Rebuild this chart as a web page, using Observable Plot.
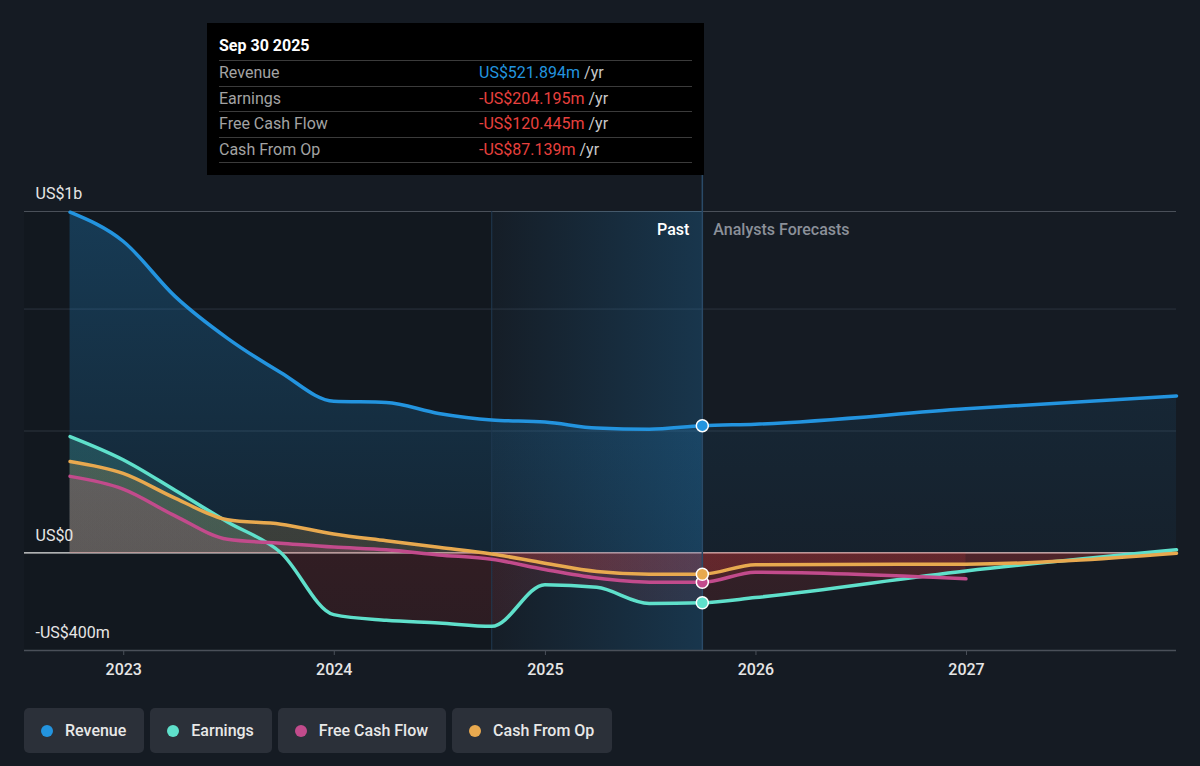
<!DOCTYPE html>
<html>
<head>
<meta charset="utf-8">
<script src="https://cdn.jsdelivr.net/npm/d3@7"></script>
<script src="https://cdn.jsdelivr.net/npm/@observablehq/plot@0.6"></script>
<style>
  body { margin: 0; background: #151b23; font-family: Roboto, "Noto Sans", sans-serif; }
  #wrap { position: relative; width: 1200px; height: 766px; overflow: hidden; }
  #chart svg { display: block; }
  .tip { position: absolute; left: 207px; top: 23px; width: 497px; height: 152px; background: #000;
         box-sizing: border-box; padding: 0 12px; color: #fff; font-size: 16px; }
  .tip .ttl { height: 37px; padding-top: 12px; box-sizing: border-box; line-height: 22px; font-weight: 700; }
  .tip .row { display: flex; height: 25.5px; line-height: 24px; border-top: 1px solid #3b3b3b; box-sizing: border-box; }
  .tip .row:last-child { border-bottom: 1px solid #3b3b3b; height: 26.5px; }
  .tip .lab { width: 260px; color: #a3a3a3; }
  .tip .unit { color: #c8c8c8; }
  .legend { position: absolute; left: 24px; top: 708px; display: flex; gap: 6px; }
  .pill { height: 45px; background: #2b3039; border-radius: 5px; display: flex; align-items: center;
          padding: 0 18px 0 17px; color: #e8e8e8; font-size: 16px; font-weight: 500; box-sizing: border-box; }
  .pill i { width: 12px; height: 12px; border-radius: 50%; margin-right: 12px; display: inline-block; }
</style>
</head>
<body>
<div id="wrap">
  <div id="chart"></div>
</div>
<script>
// Quarterly trailing-twelve-month figures (US$ millions) and analyst forecasts
const pastDates = ["2022-09-30","2022-12-31","2023-03-31","2023-06-30","2023-09-30","2023-12-31",
                   "2024-03-31","2024-06-30","2024-09-30","2024-12-31","2025-03-31","2025-06-30","2025-09-30"];
const forecastDates = ["2025-12-31","2026-12-31","2027-12-31"];

const revenuePast  = [1397, 1278, 1052, 880, 740, 622, 617, 572, 545, 537, 512, 507, 521.894];
const revenueForecast = [528, 591, 644];
const earningsPast = [477, 382, 257, 127, 2, -253, -276, -287, -301, -130, -141, -207, -204.195];
const earningsForecast = [-183, -74, 13];
const fcfPast = [314, 262, 152, 56, 40, 24, 13, -8, -26, -68, -103, -120, -120.445];
const fcfForecast = [-79, -106];
const cfoPast = [375, 326, 225, 136, 118, 78, 50, 23, -4, -42, -76, -87, -87.139];
const cfoForecast = [-48, -46, -1];

const seriesNames  = ["Revenue", "Earnings", "Free Cash Flow", "Cash From Op"];
const seriesColors = ["#2394df", "#5fe0cb", "#c24b8c", "#e8a94f"];

const yTickValues = [1400, 0, -400];
const yTickLabels = ["US$1b", "US$0", "-US$400m"];
const xTickYears = [2023, 2024, 2025, 2026, 2027];

const highlightStart = "2024-09-30";
const reportDate = "2025-09-30";
const reportLabel = "Sep 30 2025";

// ---- build tables ----
const parse = d3.utcParse("%Y-%m-%d");
const rows = (dates, vals) => vals.map((v, i) => ({date: parse(dates[i]), value: v}));
const join = (past, fc) => rows(pastDates, past).concat(rows(forecastDates, fc));

const revenue  = join(revenuePast, revenueForecast);
const earnings = join(earningsPast, earningsForecast);
const fcf      = join(fcfPast, fcfForecast);
const cfo      = join(cfoPast, cfoForecast);
const revenuePastRows = rows(pastDates, revenuePast);
const revenueForecastRows = [revenuePastRows[revenuePastRows.length - 1]].concat(rows(forecastDates, revenueForecast));

const series = [revenue, earnings, fcf, cfo];
const lastPast = [revenuePast, earningsPast, fcfPast, cfoPast].map(a => a[a.length - 1]);
const markers = lastPast.map((v, i) => ({date: parse(reportDate), value: v, color: seriesColors[i]}));

const xDomain = [parse("2022-07-13"), parse("2027-12-31")];
const yDomain = [-400, 1400];

// Gradients: vertical ones in the plot's pixel space, split at the zero line,
// plus a horizontal one for the trailing-year highlight band
function gradients(index, scales) {
  const ns = "http://www.w3.org/2000/svg";
  const y = scales && scales.y ? scales.y : d3.scaleLinear(yDomain, [650, 211]);
  const top = y(1400), bot = y(-400), z = (y(0) - top) / (bot - top);
  const defs = document.createElementNS(ns, "defs");
  function grad(id, stops, horizontal) {
    const g = document.createElementNS(ns, "linearGradient");
    g.setAttribute("id", id);
    if (horizontal) {
      g.setAttribute("x1", 0); g.setAttribute("x2", 1);
      g.setAttribute("y1", 0); g.setAttribute("y2", 0);
    } else {
      g.setAttribute("gradientUnits", "userSpaceOnUse");
      g.setAttribute("x1", 0); g.setAttribute("x2", 0);
      g.setAttribute("y1", top); g.setAttribute("y2", bot);
    }
    for (const [o, c, a] of stops) {
      const s = document.createElementNS(ns, "stop");
      s.setAttribute("offset", o);
      s.setAttribute("stop-color", c);
      s.setAttribute("stop-opacity", a);
      g.appendChild(s);
    }
    defs.appendChild(g);
  }
  grad("g-rev-past", [[0, "#2394df", 0.28], [z, "#2394df", 0.11], [z, "#2394df", 0], [1, "#2394df", 0]]);
  grad("g-rev-fc",   [[0, "#2394df", 0.15], [z, "#2394df", 0.05], [z, "#2394df", 0], [1, "#2394df", 0]]);
  const red = "#e23b3b";
  ["earn", "fcf", "cfo"].forEach((k, i) => {
    const c = seriesColors[i + 1];
    grad("g-" + k, [[0, c, 0.22], [z, c, 0.18], [z, red, 0.15], [1, red, 0.12]]);
  });
  grad("g-band", [[0, "#2394df", 0.02], [1, "#2394df", 0.22]], true);
  return defs;
}

const line = (data, color) => Plot.line(data, {x: "date", y: "value", stroke: color, strokeWidth: 3.5, curve: "monotone-x"});
const area = (data, fill) => Plot.areaY(data, {x: "date", y1: 0, y2: "value", fill, curve: "monotone-x"});

const chart = Plot.plot({
  width: 1200,
  height: 700,
  marginLeft: 24,
  marginRight: 24,
  marginTop: 211,
  marginBottom: 50,
  style: {background: "transparent", color: "#e6e6e6", fontFamily: "Roboto, sans-serif", fontSize: "16px", overflow: "visible"},
  x: {type: "utc", domain: xDomain},
  y: {domain: yDomain},
  marks: [
    gradients,
    // slightly darker backdrop for the earlier history
    Plot.rect([{x1: xDomain[0], x2: parse(highlightStart)}],
      {x1: "x1", x2: "x2", y1: -400, y2: 1400, fill: "#000", fillOpacity: 0.1}),
    // grid
    Plot.ruleY([1400], {stroke: "#4a5059", strokeWidth: 1.2}),
    Plot.ruleY([1000, 500], {stroke: "#2c343f", strokeWidth: 1}),
    Plot.ruleY([0], {stroke: "#e4e4e4", strokeWidth: 1.3}),
    // filled areas to zero
    area(revenuePastRows, "url(#g-rev-past)"),
    area(revenueForecastRows, "url(#g-rev-fc)"),
    area(earnings, "url(#g-earn)"),
    area(fcf, "url(#g-fcf)"),
    area(cfo, "url(#g-cfo)"),
    // highlighted trailing-twelve-months band
    Plot.rect([{x1: parse(highlightStart), x2: parse(reportDate)}],
      {x1: "x1", x2: "x2", y1: -400, y2: 1400, fill: "url(#g-band)"}),
    Plot.ruleX([parse(highlightStart)], {y1: -400, y2: 1400, stroke: "#1f3850", strokeWidth: 1}),
    // past / forecast divider
    Plot.ruleX([parse(reportDate)], {y1: -400, y2: 1560, stroke: "#2a4a68", strokeWidth: 1.5}),
    // lines
    ...series.map((d, i) => line(d, seriesColors[i])),
    Plot.dot(markers, {x: "date", y: "value", fill: "color", r: 6, stroke: "#ffffff", strokeWidth: 1.5}),
    Plot.text([{date: parse(reportDate), value: 1326, t: "Past"}],
      {x: "date", y: "value", text: "t", textAnchor: "end", dx: -13, fill: "#ffffff", fontSize: 16, fontWeight: 500}),
    Plot.text([{date: parse(reportDate), value: 1326, t: "Analysts Forecasts"}],
      {x: "date", y: "value", text: "t", textAnchor: "start", dx: 11, fill: "#8b9099", fontSize: 16, fontWeight: 500}),
    // axes
    Plot.ruleY([-400], {stroke: "#4a5059", strokeWidth: 1.5}),
    Plot.axisX({
      ticks: xTickYears.map(y => new Date(Date.UTC(y, 0, 1))),
      tickFormat: d => String(d.getUTCFullYear()),
      tickSize: 5, tickPadding: 8, stroke: "#4a5059", fontSize: 16, fontWeight: 500, label: null
    }),
    Plot.axisY({
      ticks: yTickValues,
      tickFormat: v => yTickLabels[yTickValues.indexOf(v)],
      tickSize: 0, tickPadding: 0, textAnchor: "start", dx: 11, dy: -17.5, fontSize: 16, label: null
    })
  ]
});
document.getElementById("chart").appendChild(chart);

// tooltip panel for the latest reported period
const fmt = v => (v < 0 ? "-" : "") + "US$" + Math.abs(v).toFixed(3) + "m";
const tip = document.createElement("div");
tip.className = "tip";
tip.innerHTML = `<div class="ttl">${reportLabel}</div>` + seriesNames.map((n, i) => {
  const v = lastPast[i];
  const col = v < 0 ? "#e8413e" : seriesColors[0];
  return `<div class="row"><span class="lab">${n}</span><span style="color:${col}">${fmt(v)}</span><span class="unit">&nbsp;/yr</span></div>`;
}).join("");
document.getElementById("wrap").appendChild(tip);

// legend
const legend = document.createElement("div");
legend.className = "legend";
legend.innerHTML = seriesNames.map((n, i) =>
  `<div class="pill"><i style="background:${seriesColors[i]}"></i>${n}</div>`).join("");
document.getElementById("wrap").appendChild(legend);
</script>
</body>
</html>
